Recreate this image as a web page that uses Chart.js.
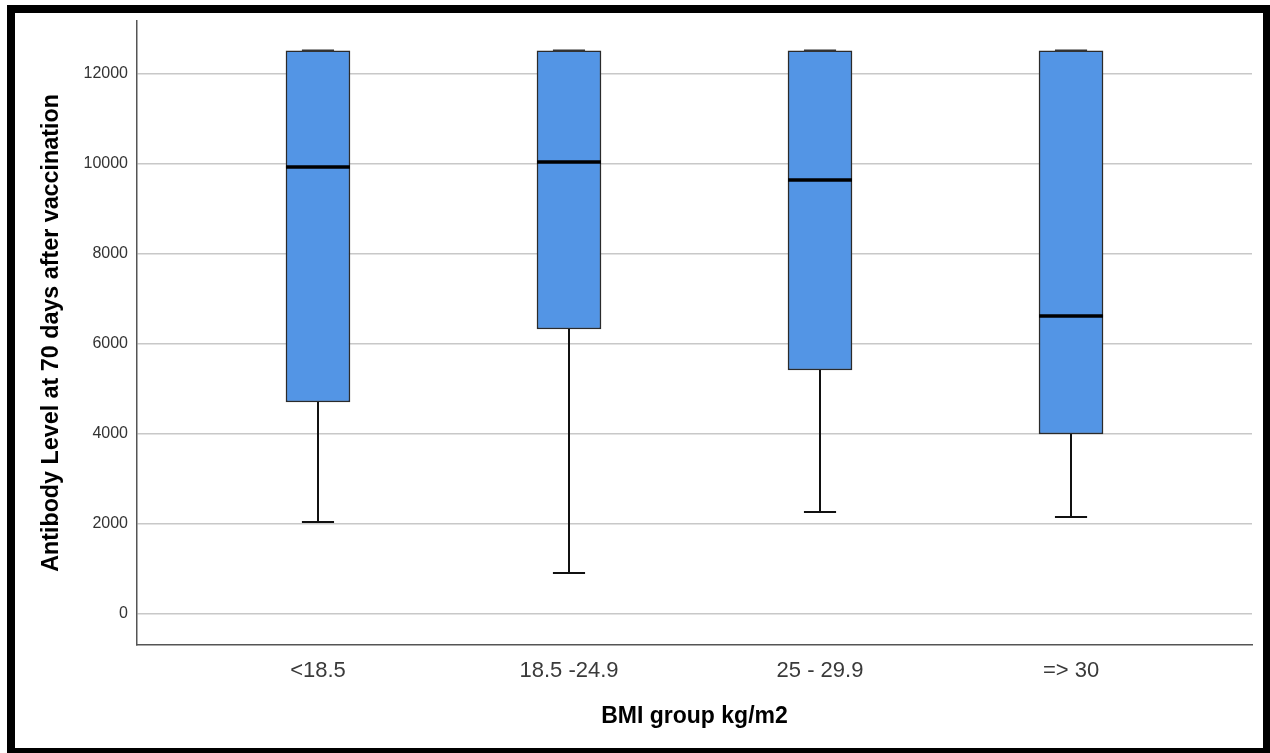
<!DOCTYPE html>
<html>
<head>
<meta charset="utf-8">
<script src="https://cdn.jsdelivr.net/npm/chart.js@4/dist/chart.umd.min.js"></script>
<style>
  html, body { margin: 0; padding: 0; background: #fff; width: 1270px; height: 753px; overflow: hidden; }
  #frame { position: absolute; left: 7px; top: 5px; width: 1248px; height: 735px; border: 8px solid #000; background: #fff; }
  #c { display: block; }
</style>
</head>
<body>
<div id="frame"><canvas id="c" width="1248" height="735"></canvas></div>
<script>
// ---- data ----
const CATEGORIES = ['<18.5', '18.5 -24.9', '25 - 29.9', '=> 30'];
const WHISKER_LOW = [2042, 910, 2264, 2153];
const Q1 = [4705, 6325, 5415, 3995];
const MEDIAN = [9920, 10031, 9632, 6613];
const Q3 = [12500, 12500, 12500, 12500];
const WHISKER_HIGH = [12500, 12500, 12500, 12500];
const Y_TICKS = [0, 2000, 4000, 6000, 8000, 10000, 12000];
const X_TITLE = 'BMI group kg/m2';
const Y_TITLE = 'Antibody Level at 70 days after vaccination';

// ---- styles ----
const FONT = '"Liberation Sans", Arial, Helvetica, sans-serif';
const BOX_HALF = 0.1275;   // half box width in category units
const CAP_HALF = 0.064;    // half whisker-cap width in category units
const BOX_FILL = '#5395e5';

const datasets = [];
datasets.push({
  type: 'bar',
  data: CATEGORIES.map((_, i) => ({ x: i, y: [Q1[i], Q3[i]] })),
  backgroundColor: BOX_FILL,
  borderColor: '#2b2b2b',
  borderWidth: 1.5,
  borderSkipped: false,
  barThickness: 64,
  order: 3
});
CATEGORIES.forEach((_, i) => {
  const lineBase = { type: 'line', pointRadius: 0, borderColor: '#111', fill: false, tension: 0 };
  datasets.push(Object.assign({}, lineBase, { borderWidth: 2, order: 4,
    data: [{ x: i, y: WHISKER_LOW[i] }, { x: i, y: Q1[i] }] }));
  datasets.push(Object.assign({}, lineBase, { borderWidth: 2, order: 4,
    data: [{ x: i, y: Q3[i] }, { x: i, y: WHISKER_HIGH[i] }] }));
  datasets.push(Object.assign({}, lineBase, { borderWidth: 2, order: 1,
    data: [{ x: i - CAP_HALF, y: WHISKER_LOW[i] }, { x: i + CAP_HALF, y: WHISKER_LOW[i] }] }));
  datasets.push(Object.assign({}, lineBase, { borderWidth: 2.5, order: 1, borderColor: '#333',
    data: [{ x: i - CAP_HALF, y: WHISKER_HIGH[i] }, { x: i + CAP_HALF, y: WHISKER_HIGH[i] }] }));
  datasets.push(Object.assign({}, lineBase, { borderWidth: 3.5, order: 0, borderColor: '#000',
    data: [{ x: i - BOX_HALF, y: MEDIAN[i] }, { x: i + BOX_HALF, y: MEDIAN[i] }] }));
});

new Chart(document.getElementById('c'), {
  type: 'bar',
  data: { datasets },
  options: {
    responsive: false,
    animation: false,
    events: [],
    layout: { padding: { top: 8, right: 11, left: 0, bottom: 0 } },
    plugins: { legend: { display: false }, tooltip: { enabled: false } },
    scales: {
      x: {
        type: 'linear',
        min: -0.721,
        max: 3.721,
        offset: false,
        grid: { display: false, offset: false },
        border: { display: true, color: '#555', width: 1.5 },
        afterBuildTicks: s => { s.ticks = CATEGORIES.map((_, i) => ({ value: i })); },
        afterFit: s => { s.height = 103; s.paddingLeft = 0; s.paddingRight = 0; },
        ticks: {
          autoSkip: false,
          maxRotation: 0,
          padding: 5,
          color: '#3a3a3a',
          font: { family: FONT, size: 22 },
          callback: v => CATEGORIES[v]
        },
        title: {
          display: true,
          text: X_TITLE,
          color: '#000',
          font: { family: FONT, size: 23, weight: 'bold' },
          padding: { top: 0, bottom: 18 }
        }
      },
      y: {
        type: 'linear',
        min: -688,
        max: 13160,
        afterBuildTicks: s => { s.ticks = Y_TICKS.map(v => ({ value: v })); },
        afterFit: s => { s.width = 122; s.paddingTop = 0; s.paddingBottom = 0; },
        grid: { color: '#c8c8c8', lineWidth: 1.5, tickLength: 0, drawTicks: false },
        border: { display: true, color: '#555', width: 1.5 },
        ticks: {
          padding: 9,
          color: '#333',
          font: { family: FONT, size: 16 },
          callback: v => String(v)
        },
        title: {
          display: true,
          text: Y_TITLE,
          color: '#000',
          font: { family: FONT, size: 23.3, weight: 'bold' },
          padding: { top: 23, bottom: 0 }
        }
      }
    }
  }
});
</script>
</body>
</html>
